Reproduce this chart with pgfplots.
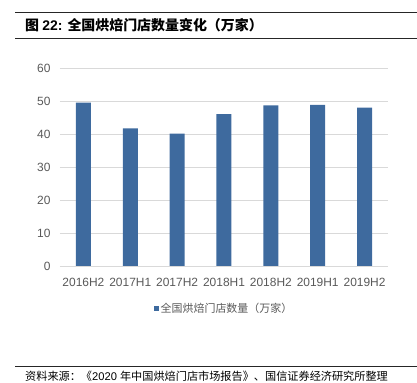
\documentclass[border=0pt]{standalone}
\usepackage{pgfplots}
\pgfplotsset{compat=1.18}
\usepackage{fontspec}
\setmainfont{Liberation Sans}
\newfontfamily\cjk{Noto Sans CJK SC}
\definecolor{barblue}{HTML}{3E6A9E}
\definecolor{gridgray}{HTML}{D9D9D9}
\definecolor{tickgray}{HTML}{595959}
\begin{document}
\begin{tikzpicture}
\path[use as bounding box] (0bp,0bp) rectangle (417bp,383bp);
\draw[line width=0.8bp, black!85] (15bp,371bp) -- (417bp,371bp);
\draw[line width=0.8bp, black!85] (15bp,345bp) -- (417bp,345bp);
\node[anchor=west, inner sep=0pt, font=\fontsize{14}{16}\selectfont] at (25bp,358bp) {{\cjk\bfseries 图 }{\bfseries 22:}\hspace{5bp}{\cjk\bfseries 全国烘焙门店数量变化（万家）}};
\draw[line width=0.8bp, black!85] (15bp,17bp) -- (417bp,17bp);
\node[anchor=west, inner sep=0pt, font=\fontsize{11.2}{13}\selectfont] at (25bp,7bp) {{\cjk 资料来源：《}2020 {\cjk 年中国烘焙门店市场报告》、国信证券经济研究所整理}};
\begin{axis}[
  at={(60bp,117bp)}, anchor=south west,
  scale only axis, width=328bp, height=198bp,
  xmin=-0.5, xmax=6.5, ymin=0, ymax=60,
  ytick={0,10,...,60}, xtick={0,...,6},
  xticklabels={2016H2,2017H1,2017H2,2018H1,2018H2,2019H1,2019H2},
  axis line style={draw=none}, major tick length=0pt,
  ymajorgrids, grid style={draw=gridgray, line width=0.8bp},
  ybar, bar width=15bp,
  tick label style={font=\fontsize{12}{14}\selectfont, text=tickgray},
  yticklabel style={xshift=-6bp},
  xticklabel style={yshift=-9bp},
  /pgf/number format/assume math mode=true,
  clip=false,
  legend style={at={(0.5,-0.217)}, anchor=center, draw=none, font=\fontsize{11}{13}\selectfont\cjk, text=tickgray},
  legend image code/.code={\fill[barblue] (0bp,-2.5bp) rectangle (5bp,2.5bp);},
]
\addplot[fill=barblue, draw=none] coordinates {(0,49.5) (1,41.7) (2,40.1) (3,46.0) (4,48.7) (5,48.8) (6,48.0)};
\addlegendentry{全国烘焙门店数量（万家）}
\end{axis}
\end{tikzpicture}
\end{document}
